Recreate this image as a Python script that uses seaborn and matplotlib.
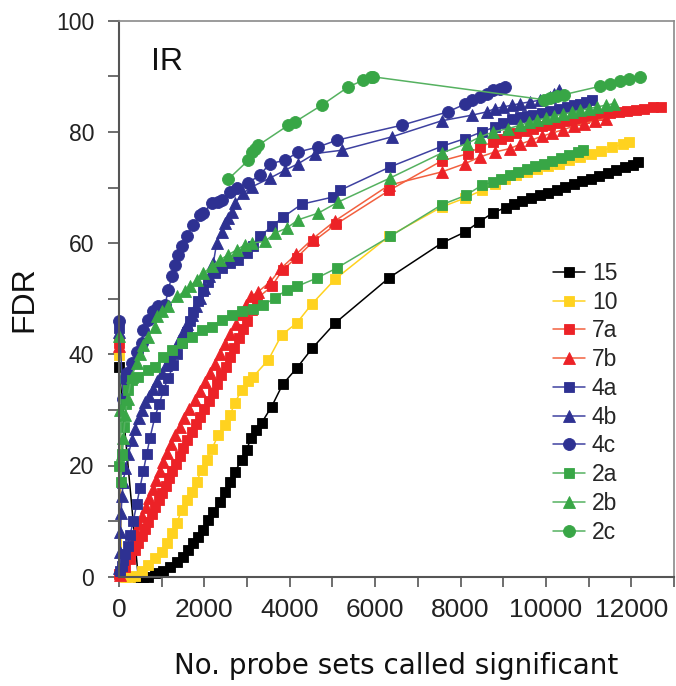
import matplotlib
matplotlib.use('Agg')
import matplotlib.pyplot as plt
import seaborn as sns
import pandas as pd
from matplotlib.ticker import MultipleLocator

# ---------------- data ----------------
series_names = ['15', '10', '7a', '7b', '4a', '4b', '4c', '2a', '2b', '2c']

x15 = [0, 450, 560, 687, 843, 1038, 1195, 1351, 1507, 1624, 1741, 1858, 1975, 2092, 2209, 2366, 2483,
       2600, 2717, 2874, 2991, 3092, 3200, 3342, 3576, 3834, 4162, 4528, 5060, 6333, 7559, 8105, 8433,
       8768, 9065, 9250, 9450, 9650, 9850, 10050, 10250, 10450, 10650, 10850, 11050, 11250, 11450,
       11650, 11850, 12050, 12150]
y15 = [37.8, 0, 0, 0, 0.6, 1.1, 1.8, 2.7, 3.6, 4.8, 6.0, 7.2, 8.4, 10.2, 11.7, 13.5, 15.3,
       17.1, 18.9, 21.0, 22.8, 25.0, 26.3, 27.7, 30.6, 34.6, 37.5, 41.1, 45.6, 53.8, 60.0, 62.0, 63.8,
       65.5, 66.4, 67.0, 67.6, 68.1, 68.6, 69.1, 69.6, 70.1, 70.6, 71.1, 71.6, 72.1, 72.6,
       73.1, 73.6, 74.1, 74.5]

x10 = [0, 60, 150, 250, 375, 531, 687, 843, 999, 1117, 1234, 1351, 1468, 1585, 1702, 1819, 1936,
       2054, 2171, 2327, 2483, 2600, 2717, 2874, 3030, 3147, 3498, 3811, 4162, 4513, 5060, 6317,
       7559, 8105, 8500, 8800, 9050, 9300, 9550, 9800, 10050, 10300, 10550, 10800, 11050, 11300,
       11550, 11800, 11950]
y10 = [39.9, 0.3, 0, 0, 0.2, 1.1, 2.1, 3.3, 4.5, 6.0, 7.8, 9.6, 12.0, 13.8, 15.3, 17.1, 19.2,
       21.0, 22.9, 25.5, 27.3, 29.1, 31.3, 33.6, 35.2, 36.0, 39.0, 43.5, 45.6, 49.0, 53.5, 61.2,
       66.5, 68.1, 69.5, 70.6, 71.5, 72.2, 72.8, 73.3, 73.8, 74.3, 74.9, 75.4, 76.0, 76.6,
       77.2, 77.8, 78.2]

x7a = [0, 10, 140, 260, 375, 450, 530, 610, 690, 770, 850, 930, 1010, 1090, 1170, 1250, 1330,
       1420, 1510, 1600, 1700, 1800, 1900, 2000, 2100, 2200, 2300, 2400, 2500, 2600, 2700, 2800,
       2900, 3000, 3108, 3225, 3576, 3834, 4162, 4552, 5083, 6333, 7559, 8183, 8456, 8768, 8950,
       9100, 9300, 9500, 9700, 9900, 10100, 10300, 10500, 10700, 10900, 11100, 11300, 11500, 11700,
       11900, 12100, 12300, 12500, 12700]
y7a = [42.0, 0.5, 1.8, 3.2, 4.8, 6.0, 7.3, 8.6, 9.9, 11.2, 12.5, 13.8, 15.1, 16.4, 17.7, 19.0, 20.3,
       21.7, 23.1, 24.5, 26.0, 27.4, 28.8, 30.2, 31.6, 33.0, 34.6, 36.2, 37.8, 39.5, 41.2, 43.0,
       44.6, 46.0, 48.0, 50.0, 52.2, 55.2, 57.4, 60.3, 63.4, 69.5, 74.8, 76.1, 77.3, 78.2, 78.8,
       79.3, 79.8, 80.2, 80.6, 81.0, 81.3, 81.6, 81.9, 82.2, 82.5, 82.8, 83.1, 83.4, 83.6,
       83.8, 84.0, 84.2, 84.4, 84.5]

x7b = [0, 15, 100, 200, 300, 390, 470, 550, 630, 710, 790, 870, 950, 1040, 1130, 1220, 1320, 1420,
       1530, 1650, 1770, 1890, 2010, 2130, 2250, 2370, 2490, 2610, 2730, 2850, 2970, 3100, 3250,
       3540, 3800, 4150, 4540, 5060, 6320, 7559, 8105, 8456, 8808, 9159, 9400, 9650, 9900, 10150,
       10400, 10650, 10900, 11150, 11400]
y7b = [41.5, 0.3, 2.2, 4.0, 6.0, 7.8, 9.4, 11.0, 12.6, 14.2, 15.8, 17.4, 19.0, 20.6, 22.2, 23.8,
       25.4, 27.0, 28.6, 30.2, 31.8, 33.4, 35.0, 36.6, 38.3, 40.0, 41.8, 43.6, 45.4, 47.2, 48.8,
       50.4, 51.2, 53.0, 55.5, 58.0, 60.8, 64.0, 70.4, 72.8, 74.3, 75.5, 76.4, 77.0, 77.8, 78.5,
       79.2, 79.8, 80.4, 81.0, 81.5, 82.0, 82.4]

x4a = [0, 20, 60, 100, 140, 200, 258, 335, 414, 492, 570, 648, 726, 843, 940, 1038, 1156, 1273,
       1351, 1468, 1585, 1663, 1741, 1858, 1975, 2092, 2249, 2405, 2600, 2795, 2991, 3147, 3303,
       3576, 3849, 4279, 5021, 5177, 6348, 7559, 8105, 8496, 8808, 9000, 9198, 9393, 9550, 9706,
       9900, 10096, 10300, 10487, 10650, 10799, 10950, 11080]
y4a = [44.7, 1.0, 2.0, 3.0, 4.0, 5.5, 7.5, 10.0, 13.0, 16.0, 19.0, 22.0, 25.0, 28.8, 31.0, 33.5,
       35.8, 38.0, 40.0, 42.0, 44.1, 46.0, 47.6, 49.5, 51.3, 53.0, 54.6, 55.5, 56.4, 57.0, 58.2,
       59.4, 61.2, 63.0, 64.7, 67.0, 68.3, 69.5, 73.7, 77.4, 78.8, 80.0, 80.9, 81.6, 82.4, 82.7,
       82.9, 83.1, 83.4, 83.7, 84.1, 84.5, 84.8, 85.1, 85.4, 85.7]

x4b = [0, 10, 20, 35, 50, 70, 100, 150, 220, 300, 380, 460, 540, 620, 700, 800, 900, 1000, 1100,
       1200, 1300, 1400, 1500, 1600, 1700, 1800, 1900, 2000, 2100, 2209, 2288, 2405, 2483, 2560,
       2640, 2717, 2913, 3108, 3537, 3888, 4201, 4591, 5216, 6387, 7559, 8261, 8613, 8808, 9000,
       9200, 9393, 9627, 9862, 10096, 10200, 10300]
y4b = [44.0, 1.5, 4.5, 8.0, 11.5, 14.5, 17.0, 19.5, 22.0, 24.5, 26.5, 28.5, 30.0, 31.5, 32.5, 33.8,
       35.2, 36.6, 38.0, 39.5, 41.0, 42.5, 44.0, 45.5, 47.0, 48.6, 50.2, 52.0, 54.0, 56.4, 60.0,
       62.0, 63.6, 64.6, 65.6, 67.2, 69.0, 70.1, 71.7, 73.1, 74.3, 76.1, 76.7, 79.1, 82.0, 83.0,
       83.6, 84.2, 84.5, 84.8, 85.1, 85.4, 85.7, 86.3, 86.9, 87.5]

x4c = [0, 100, 140, 180, 297, 414, 531, 570, 687, 804, 921, 1078, 1156, 1234, 1312, 1390, 1468,
       1585, 1741, 1897, 1975, 2171, 2327, 2405, 2600, 2757, 3030, 3303, 3537, 3888, 4201, 4669,
       5099, 6622, 7700, 8105, 8261, 8456, 8613, 8768, 8925, 9042]
y4c = [46.0, 32.0, 35.5, 36.6, 38.4, 40.5, 42.0, 44.4, 46.2, 47.7, 48.6, 48.9, 51.6, 54.0, 56.1,
       57.9, 59.4, 61.2, 63.3, 65.0, 65.4, 67.2, 67.4, 67.7, 69.2, 69.9, 70.8, 72.3, 74.3, 74.9,
       76.4, 77.3, 78.5, 81.2, 83.6, 85.0, 85.7, 86.3, 86.9, 87.5, 87.8, 88.0]

x2a = [0, 40, 80, 120, 160, 218, 300, 453, 687, 843, 1038, 1234, 1468, 1702, 1936, 2171, 2405,
       2640, 2874, 3147, 3381, 3654, 3928, 4162, 4630, 5099, 6348, 7559, 8129, 8496, 8768, 8950,
       9150, 9350, 9550, 9750, 9950, 10150, 10350, 10550, 10750, 10870]
y2a = [20.0, 17.0, 22.0, 27.0, 31.0, 33.5, 35.4, 36.0, 37.2, 37.8, 39.6, 40.8, 42.0, 43.2, 44.4,
       45.0, 46.2, 47.1, 47.7, 48.1, 48.9, 50.1, 51.6, 52.2, 53.7, 55.5, 61.2, 66.9, 68.6, 70.4,
       71.0, 71.6, 72.2, 72.8, 73.3, 73.8, 74.3, 74.8, 75.3, 75.8, 76.3, 76.8]

x2b = [0, 30, 60, 100, 150, 200, 300, 414, 500, 570, 687, 843, 882, 999, 1156, 1351, 1546, 1663,
       1819, 1975, 2171, 2366, 2561, 2757, 2952, 3108, 3420, 3654, 3928, 4201, 4669, 5138, 6348,
       7559, 8144, 8456, 8768, 9120, 9393, 9600, 9800, 10000, 10200, 10400, 10600, 10800, 11000,
       11200, 11400, 11600]
y2b = [43.3, 30.0, 22.0, 25.0, 29.0, 32.0, 36.0, 38.5, 40.0, 41.7, 43.2, 45.0, 46.8, 47.7, 48.6,
       50.4, 51.3, 52.2, 53.4, 54.6, 55.8, 57.0, 57.9, 58.8, 59.7, 60.0, 60.3, 61.8, 62.7, 64.2,
       65.4, 67.4, 71.7, 76.2, 77.9, 79.1, 80.0, 80.6, 81.2, 81.7, 82.1, 82.5, 82.9, 83.2, 83.5,
       83.9, 84.2, 84.5, 84.8, 85.1]

x2c = [2561, 3030, 3108, 3186, 3264, 3966, 4123, 4747, 5372, 5724, 5900, 5958,
       9950, 10096, 10252, 10420, 11267, 11501, 11735, 11950, 12204]
y2c = [71.5, 74.9, 76.4, 77.0, 77.6, 81.2, 81.8, 84.8, 88.1, 89.3, 89.8,
       89.9, 85.8, 86.1, 86.4, 86.7, 88.2, 88.6, 89.1, 89.5, 89.9]

xticks = [0, 2000, 4000, 6000, 8000, 10000, 12000]
yticks = [0, 20, 40, 60, 80, 100]

# ---------------- style ----------------
sns.set_theme(style='ticks')
plt.rcParams['font.family'] = ['Liberation Sans', 'DejaVu Sans']

BLACK = '#000000'
YEL = '#FFD21F'
RED = '#EC2227'
RED_L = '#F2603F'
BLUE = '#2E3192'
BLUE_L = '#3E41A0'
GREEN = '#38A646'
GREEN_L = '#55B160'

styles = {
    '15': (x15, y15, 's', BLACK, BLACK, 7.4),
    '10': (x10, y10, 's', YEL, YEL, 7.4),
    '7a': (x7a, y7a, 's', RED, RED_L, 7.4),
    '7b': (x7b, y7b, '^', RED, RED_L, 8.0),
    '4a': (x4a, y4a, 's', BLUE, BLUE_L, 7.4),
    '4b': (x4b, y4b, '^', BLUE, BLUE_L, 8.0),
    '4c': (x4c, y4c, 'o', BLUE, BLUE_L, 8.6),
    '2a': (x2a, y2a, 's', GREEN, GREEN_L, 7.4),
    '2b': (x2b, y2b, '^', GREEN, GREEN_L, 8.0),
    '2c': (x2c, y2c, 'o', GREEN, GREEN_L, 8.6),
}

fig = plt.figure(figsize=(6.76, 6.86), dpi=100)
L, R, T, B = 119, 674, 20.7, 576.7
ax = fig.add_axes([L / 676, 1 - B / 686, (R - L) / 676, (B - T) / 686])

for name in series_names:
    xs, ys, mk, fc, lc, ms = styles[name]
    df = pd.DataFrame({'x': xs, 'y': ys})
    sns.lineplot(data=df, x='x', y='y', ax=ax, color=lc, marker=mk, markersize=ms,
                 markerfacecolor=fc, markeredgecolor=fc, markeredgewidth=0.6,
                 linewidth=1.1, sort=False, estimator=None, label=name, clip_on=False)

ax.set_xlim(0, 13000)
ax.set_ylim(0, 100)
ax.set_xticks(xticks)
ax.set_yticks(yticks)
ax.xaxis.set_minor_locator(MultipleLocator(1000))
ax.yaxis.set_minor_locator(MultipleLocator(10))
ax.set_xticklabels([str(v) for v in xticks])
ax.set_yticklabels([str(v) for v in yticks])

for which in ('major', 'minor'):
    ax.tick_params(axis='x', which=which, direction='out', length=7, width=1.2,
                   color='#555555', bottom=True)
    ax.tick_params(axis='y', which=which, direction='out', length=8, width=1.2,
                   color='#555555', left=True)
ax.tick_params(axis='y', which='major', labelsize=16.5, pad=10, labelcolor='#222222')
ax.tick_params(axis='x', which='major', labelsize=16, pad=8, labelcolor='#222222')
for lab in ax.get_xticklabels():
    lab.set_family(['Liberation Sans Narrow', 'Liberation Sans', 'DejaVu Sans'])
    lab.set_fontsize(19)

for side in ('left', 'bottom'):
    ax.spines[side].set_color('#555555')
    ax.spines[side].set_linewidth(1.5)
for side in ('top', 'right'):
    ax.spines[side].set_visible(True)
    ax.spines[side].set_color('#8a8a8a')
    ax.spines[side].set_linewidth(1.2)

ax.set_xlabel('No. probe sets called significant', fontsize=20, family='DejaVu Sans',
              color='#111111', labelpad=22)
ax.set_ylabel('FDR', fontsize=23, color='#111111', labelpad=12)

ax.text(0.058, 0.925, 'IR', transform=ax.transAxes, fontsize=23, color='#111111',
        ha='left', va='center')

leg = ax.legend(loc='upper left', bbox_to_anchor=(553 / 676, 1 - 262 / 686),
                bbox_transform=fig.transFigure, frameon=False, fontsize=16.5,
                handlelength=1.4, handletextpad=0.3, labelspacing=0.25,
                borderpad=0, borderaxespad=0)

fig.savefig('out.png', dpi=100)
